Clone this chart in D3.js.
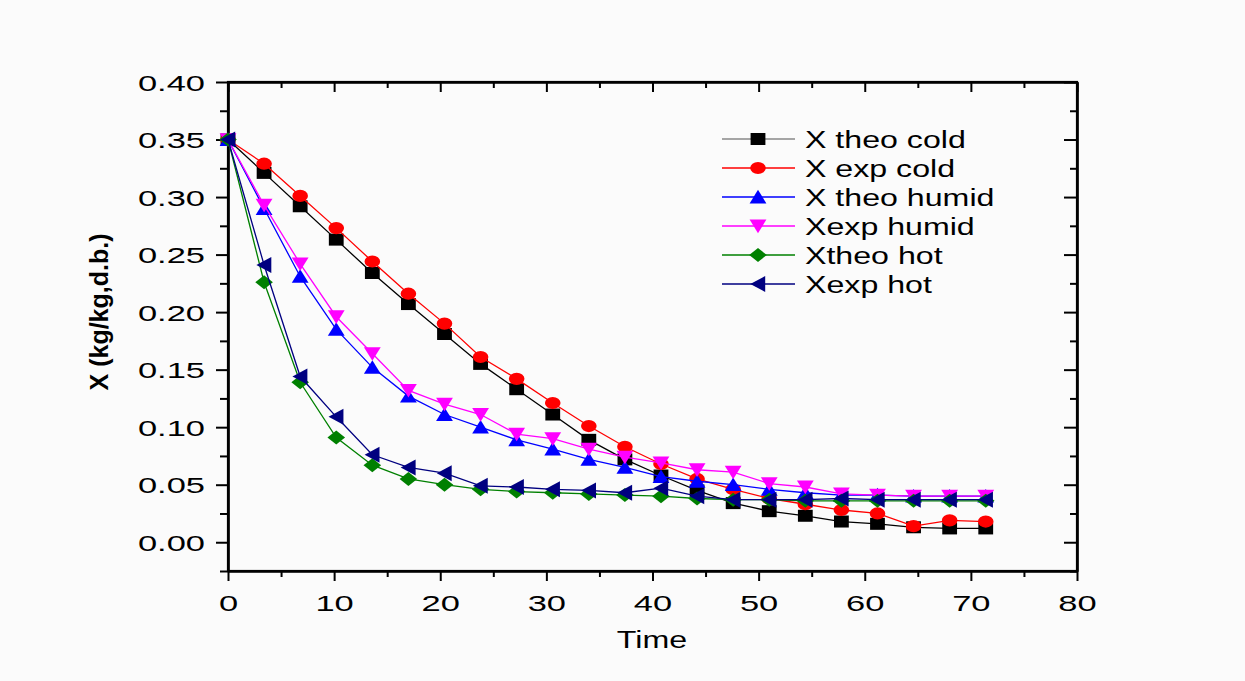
<!DOCTYPE html>
<html>
<head>
<meta charset="utf-8">
<script src="https://cdn.jsdelivr.net/npm/d3@7"></script>
<style>
  body { margin: 0; background: #fbfbfb; }
  text { font-family: "Liberation Sans", Arial, sans-serif; fill: #000; }
</style>
</head>
<body>
<div id="chart"></div>
<script>
// drying curves: moisture content vs time
const times = [0, 3.4, 6.8, 10.2, 13.6, 17, 20.4, 23.8, 27.2, 30.6, 34, 37.4, 40.8, 44.2, 47.6, 51, 54.4, 57.8, 61.2, 64.6, 68, 71.4];
const theoCold  = [0.350, 0.321, 0.292, 0.263, 0.234, 0.207, 0.181, 0.155, 0.133, 0.111, 0.089, 0.072, 0.058, 0.045, 0.034, 0.027, 0.023, 0.018, 0.016, 0.013, 0.012, 0.012];
const expCold   = [0.350, 0.329, 0.301, 0.273, 0.244, 0.216, 0.190, 0.161, 0.142, 0.121, 0.101, 0.083, 0.068, 0.055, 0.046, 0.038, 0.033, 0.028, 0.025, 0.014, 0.019, 0.018];
const theoHumid = [0.350, 0.290, 0.231, 0.185, 0.152, 0.127, 0.111, 0.100, 0.089, 0.081, 0.072, 0.065, 0.057, 0.053, 0.050, 0.046, 0.043, 0.041, 0.041, 0.040, 0.040, 0.040];
const expHumid  = [0.350, 0.293, 0.242, 0.196, 0.164, 0.132, 0.120, 0.111, 0.094, 0.090, 0.081, 0.074, 0.069, 0.063, 0.061, 0.051, 0.048, 0.042, 0.041, 0.040, 0.040, 0.040];
const theoHot   = [0.350, 0.226, 0.139, 0.091, 0.067, 0.055, 0.050, 0.046, 0.044, 0.043, 0.042, 0.041, 0.040, 0.038, 0.037, 0.037, 0.036, 0.036, 0.036, 0.036, 0.036, 0.036];
const expHot    = [0.350, 0.241, 0.144, 0.109, 0.076, 0.065, 0.060, 0.049, 0.048, 0.046, 0.045, 0.043, 0.047, 0.040, 0.037, 0.037, 0.037, 0.038, 0.037, 0.037, 0.037, 0.037];

const seriesNames = ['X theo cold', 'X exp cold', 'X theo humid', 'Xexp humid', 'Xtheo hot', 'Xexp hot'];
const seriesValues = [theoCold, expCold, theoHumid, expHumid, theoHot, expHot];
const seriesColors = ['#000000', '#ff0000', '#0000ff', '#ff00ff', '#008000', '#000080'];
const seriesShapes = ['square', 'circle', 'up', 'down', 'diamond', 'left'];

const xTicks = [0, 10, 20, 30, 40, 50, 60, 70, 80];
const yTicks = [0, 0.05, 0.10, 0.15, 0.20, 0.25, 0.30, 0.35, 0.40];

const width = 1245, height = 681;
const svg = d3.select('#chart').append('svg').attr('width', width).attr('height', height);
svg.append('rect').attr('width', width).attr('height', height).attr('fill', '#fbfbfb');

const x = d3.scaleLinear().domain([0, 80]).range([228, 1077]);
const y = d3.scaleLinear().domain([-0.025, 0.40]).range([571, 82]);

const SX = 1.5; // the source picture is stretched horizontally

function markerPath(shape) {
  switch (shape) {
    case 'square': return 'M-7.4,-6H7.4V6H-7.4Z';
    case 'circle': return 'M-7.8,0A7.8,6.1 0 1,0 7.8,0A7.8,6.1 0 1,0 -7.8,0Z';
    case 'up': return 'M0,-7.2L8.4,6.4H-8.4Z';
    case 'down': return 'M0,7.2L8.4,-6.4H-8.4Z';
    case 'diamond': return 'M0,-7L8.8,0L0,7L-8.8,0Z';
    case 'left': return 'M-7.7,0L7.2,-8V8Z';
  }
}

// minor ticks
const xMinor = d3.range(5, 80, 10);
const yMinor = d3.range(-0.025, 0.40, 0.05).map(v => +v.toFixed(3));

// bottom axis (outward)
const gB = svg.append('g').attr('transform', `translate(0,${y.range()[0]})`)
  .call(d3.axisBottom(x).tickValues(xTicks).tickSize(10).tickSizeOuter(0).tickPadding(8).tickFormat(d3.format('d')));
svg.append('g').attr('transform', `translate(0,${y.range()[0]})`)
  .call(d3.axisBottom(x).tickValues(xMinor).tickSize(6).tickSizeOuter(0).tickFormat(''));
// left axis (outward)
const gL = svg.append('g').attr('transform', `translate(${x.range()[0]},0)`)
  .call(d3.axisLeft(y).tickValues(yTicks).tickSize(12).tickSizeOuter(0).tickPadding(10).tickFormat(d3.format('.2f')));
svg.append('g').attr('transform', `translate(${x.range()[0]},0)`)
  .call(d3.axisLeft(y).tickValues(yMinor).tickSize(8).tickSizeOuter(0).tickFormat(''));
// top axis (inward)
svg.append('g').attr('transform', `translate(0,${y.range()[1]})`)
  .call(d3.axisTop(x).tickValues(xTicks).tickSize(-10).tickSizeOuter(0).tickFormat(''));
svg.append('g').attr('transform', `translate(0,${y.range()[1]})`)
  .call(d3.axisTop(x).tickValues(xMinor).tickSize(-6).tickSizeOuter(0).tickFormat(''));
// right axis (inward)
svg.append('g').attr('transform', `translate(${x.range()[1]},0)`)
  .call(d3.axisRight(y).tickValues(yTicks).tickSize(-13).tickSizeOuter(0).tickFormat(''));
svg.append('g').attr('transform', `translate(${x.range()[1]},0)`)
  .call(d3.axisRight(y).tickValues(yMinor).tickSize(-7).tickSizeOuter(0).tickFormat(''));

svg.selectAll('.domain').attr('stroke', '#000').attr('stroke-width', 2.2);
svg.selectAll('.tick line').attr('stroke', '#000').attr('stroke-width', 2);

gB.selectAll('.tick text')
  .attr('font-size', 23).attr('font-family', '"Liberation Sans", Arial, sans-serif')
  .attr('transform', `scale(${SX},1)`).attr('dy', '0.95em');
gL.selectAll('.tick text')
  .attr('font-size', 23).attr('font-family', '"Liberation Sans", Arial, sans-serif')
  .attr('x', -23 / SX).attr('transform', `scale(${SX},1)`).attr('dy', '0.36em');

// frame
svg.append('rect')
  .attr('x', x.range()[0]).attr('y', y.range()[1])
  .attr('width', x.range()[1] - x.range()[0]).attr('height', y.range()[0] - y.range()[1])
  .attr('fill', 'none').attr('stroke', '#000').attr('stroke-width', 2.2);

// axis titles
svg.append('text')
  .attr('transform', `translate(652,648) scale(1.4,1)`)
  .attr('text-anchor', 'middle').attr('font-size', 23)
  .text('Time');
svg.append('text')
  .attr('transform', `translate(108,312) rotate(-90)`)
  .attr('text-anchor', 'middle').attr('font-size', 25).attr('font-weight', 'bold')
  .text('X (kg/kg,d.b.)');

// series
const line = d3.line().x((d, i) => x(times[i])).y(d => y(d));
const plot = svg.append('g');
seriesValues.forEach((vals, s) => {
  plot.append('path')
    .datum(vals)
    .attr('d', line)
    .attr('fill', 'none')
    .attr('stroke', seriesColors[s])
    .attr('stroke-width', 1.3);
  plot.append('g').selectAll('path')
    .data(vals)
    .join('path')
    .attr('transform', (d, i) => `translate(${x(times[i])},${y(d)})`)
    .attr('d', markerPath(seriesShapes[s]))
    .attr('fill', seriesColors[s]);
});

// legend
const legend = svg.append('g');
seriesNames.forEach((name, s) => {
  const ly = 139 + s * 29;
  legend.append('line')
    .attr('x1', 722).attr('x2', 795).attr('y1', ly).attr('y2', ly)
    .attr('stroke', s === 0 ? '#888' : seriesColors[s]).attr('stroke-width', 1.4);
  legend.append('path')
    .attr('transform', `translate(758,${ly})`)
    .attr('d', markerPath(seriesShapes[s]))
    .attr('fill', seriesColors[s]);
  legend.append('text')
    .attr('transform', `translate(805,${ly + 8.5}) scale(1.34,1)`)
    .attr('font-size', 24)
    .text(name);
});
</script>
</body>
</html>
